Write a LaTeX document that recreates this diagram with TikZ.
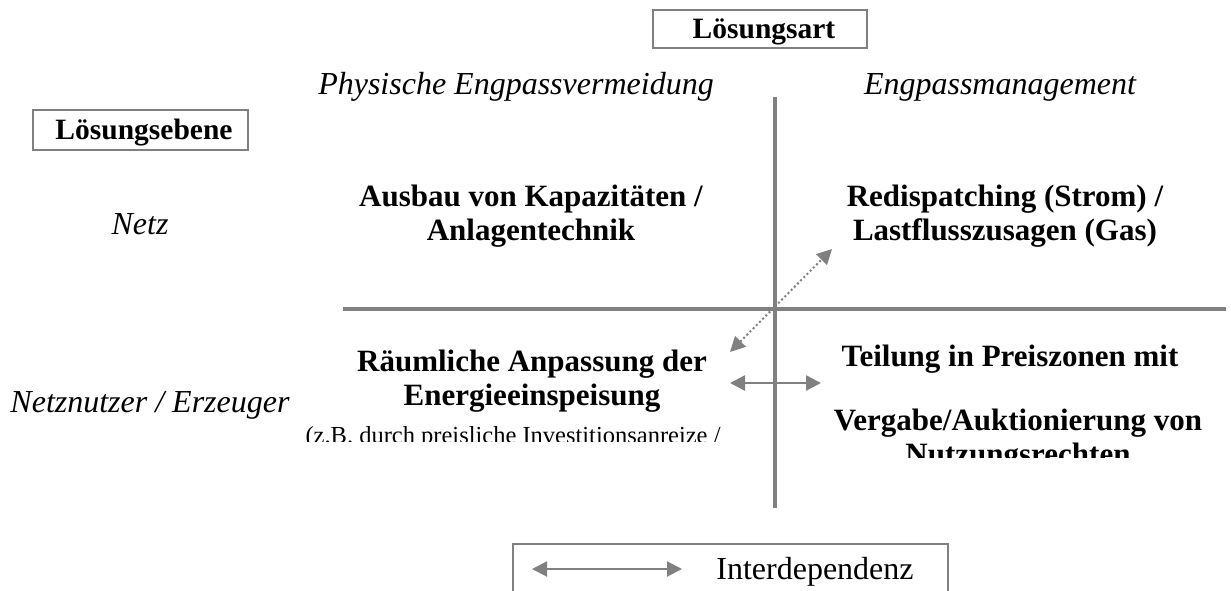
\documentclass[tikz,border=0pt]{standalone}
\usepackage{fontspec}
\setmainfont{Liberation Serif}
\usetikzlibrary{arrows.meta}
\definecolor{lgray}{RGB}{128,128,128}
\tikzset{
  hdr/.style={draw=lgray,line width=1.5pt,font=\fontsize{29.5}{34}\selectfont\bfseries,inner sep=0pt},
  ital/.style={font=\fontsize{32}{36}\selectfont\itshape,inner sep=0pt},
  cell/.style={font=\fontsize{31}{34}\selectfont\bfseries,align=center,inner sep=0pt},
  small/.style={font=\fontsize{24.5}{28}\selectfont,inner sep=0pt},
  axis/.style={draw=lgray,line width=4pt},
  inter/.style={draw=lgray,line width=2.5pt,{Triangle[length=15pt,width=15pt]}-{Triangle[length=15pt,width=15pt]}},
  dotarrow/.style={draw=lgray,line width=2pt,dash pattern=on 2pt off 2.5pt,{Triangle[length=15pt,width=15pt]}-{Triangle[length=15pt,width=15pt]}}
}
\begin{document}
\begin{tikzpicture}[x=1pt,y=-1pt]
\useasboundingbox (0,0) rectangle (1231,590);
% header boxes
\draw[draw=lgray,line width=1.5pt] (653,10) rectangle (867,48);
\node[font=\fontsize{29.5}{34}\selectfont\bfseries,inner sep=0pt] (art) at (764,32) {Lösungsart};
\draw[draw=lgray,line width=1.5pt] (33,110) rectangle (248,150);
\node[font=\fontsize{29.5}{34}\selectfont\bfseries,inner sep=0pt] (ebene) at (144,133) {Lösungsebene};
% column headings
\node[ital] (phys) at (516,87) {Physische Engpassvermeidung};
\node[ital] (mgmt) at (1000,87) {Engpassmanagement};
% row headings
\node[ital] (netz) at (140,224) {Netz};
\node[ital] (nutzer) at (150,405) {Netznutzer / Erzeuger};
% axes
\coordinate (vt) at (775,97);
\coordinate (vb) at (775,508);
\coordinate (hl) at (343,309);
\coordinate (hr) at (1226,309);
\draw[axis] (vt) -- (vb);
\draw[axis] (hl) -- (hr);
% cells
\node[cell] (ausbau) at (531,216) {Ausbau von Kapazitäten /\\Anlagentechnik};
\node[cell] (redis) at (1005,216) {Redispatching (Strom) /\\Lastflusszusagen (Gas)};
\node[cell] (raum) at (532,381) {Räumliche Anpassung der\\Energieeinspeisung};
\node[cell] (teil) at (1010,359) {Teilung in Preiszonen mit};
\begin{scope}
\clip (0,0) rectangle (1231,441);
\node[small] (zb) at (513,438) {(z.B. durch preisliche Investitionsanreize /};
\end{scope}
\begin{scope}
\clip (0,0) rectangle (1231,457);
\node[cell] (verg) at (1018,440) {Vergabe/Auktionierung von\\Nutzungsrechten};
\end{scope}
% arrows
\coordinate (da) at (730,352);
\coordinate (db) at (832,249);
\draw[dotarrow] (da) -- (db);
\coordinate (sa) at (730,383);
\coordinate (sb) at (821,383);
\draw[inter] (sa) -- (sb);
% legend
\draw[draw=lgray,line width=1.5pt] (513,600) -- (513,544) -- (948,544) -- (948,600);
\coordinate (la) at (532,569);
\coordinate (lb) at (682,569);
\draw[inter,line width=2pt] (la) -- (lb);
\node[font=\fontsize{32}{36}\selectfont,inner sep=0pt] (leg) at (815,572) {Interdependenz};
\end{tikzpicture}
\end{document}
